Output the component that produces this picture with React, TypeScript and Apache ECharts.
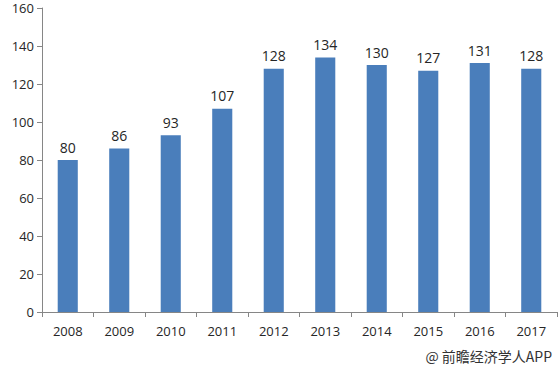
import React, { useEffect, useRef } from "react";
import * as echarts from "echarts";

const categories = ["2008", "2009", "2010", "2011", "2012", "2013", "2014", "2015", "2016", "2017"];
const values = [80, 86, 93, 107, 128, 134, 130, 127, 131, 128];
const sourceText = "@ 前瞻经济学人APP";

export default function App() {
  const ref = useRef<HTMLDivElement>(null);
  useEffect(() => {
    const chart = echarts.init(ref.current!, null, { renderer: "svg" });
    chart.setOption({
      animation: false,
      backgroundColor: "#ffffff",
      grid: { left: 42, right: 3, top: 8, bottom: 58, containLabel: false },
      xAxis: {
        type: "category",
        data: categories,
        axisLine: { lineStyle: { color: "#868686" } },
        axisTick: { show: true, alignWithLabel: false, length: 5, lineStyle: { color: "#868686" } },
        axisLabel: { color: "#262626", fontSize: 13, margin: 12, fontFamily: "Open Sans, sans-serif" },
      },
      yAxis: {
        type: "value",
        min: 0,
        max: 160,
        interval: 20,
        axisLine: { show: true, lineStyle: { color: "#868686" } },
        axisTick: { show: true, length: 5, lineStyle: { color: "#868686" } },
        splitLine: { show: false },
        axisLabel: { color: "#262626", fontSize: 13, margin: 8, fontFamily: "Open Sans, sans-serif" },
      },
      series: [
        {
          type: "bar",
          data: values,
          barWidth: "39%",
          itemStyle: { color: "#4a7ebb" },
          label: {
            show: true,
            position: "top",
            distance: 6,
            color: "#262626",
            fontSize: 14,
            fontFamily: "Open Sans, sans-serif",
          },
        },
      ],
      graphic: [
        {
          type: "text",
          right: 8,
          bottom: 7,
          style: {
            text: sourceText,
            fill: "#333333",
            fontSize: 14,
            fontFamily: "Noto Sans CJK SC, sans-serif",
          },
        },
      ],
    });
    return () => chart.dispose();
  }, []);
  return <div ref={ref} style={{ width: 560, height: 370, position: "absolute", left: 0, top: 0 }} />;
}
